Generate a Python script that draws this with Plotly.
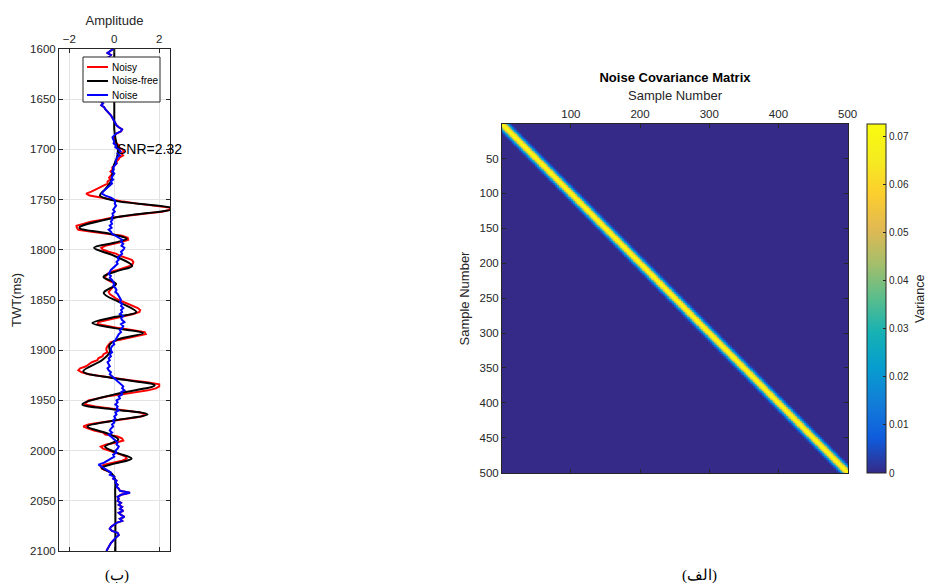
import numpy as np
import plotly.graph_objects as go

# ---------------- data: left panel (trace vs TWT) ----------------
twt = list(range(1600, 2101, 2))  # ms, 2 ms sampling

noise = [
    -0.05, -0.2, -0.3, -0.15, -0.25, -0.1, -0.2, -0.3, -0.25, -0.35, -0.3, -0.4, -0.35, -0.3, -0.45, -0.4, -0.35, -0.5, -0.45, -0.4, -0.5, -0.55, -0.45, -0.5, -0.6,
    -0.55, -0.6, -0.5, -0.58, -0.45, -0.4, -0.3, -0.2, -0.15, -0.1, -0.05, 0.0, 0.02, 0.1, 0.2, 0.35, 0.3, 0.1, 0.0, -0.08, -0.05, 0.0, -0.03, 0.08, 0.05,
    0.2, 0.28, 0.15, 0.25, 0.12, 0.1, 0.05, 0.1, 0.02, -0.05, -0.02, -0.1, 0.0, -0.08, -0.12, -0.05, -0.15, -0.1, -0.2, -0.3, -0.4, -0.5, -0.55, -0.4, -0.15,
    0.0, 0.05, 0.02, 0.08, 0.0, -0.05, 0.02, -0.08, -0.05, -0.12, -0.08, -0.15, -0.1, -0.2, -0.12, -0.25, -0.15, -0.1, 0.05, 0.2, 0.35, 0.3, 0.4, 0.32, 0.45,
    0.4, 0.3, 0.35, 0.25, 0.15, 0.2, 0.1, 0.15, 0.05, -0.05, -0.15, -0.2, -0.25, -0.15, -0.2, -0.1, -0.05, 0.0, -0.05, 0.05, 0.1, 0.05, 0.15, 0.2, 0.25,
    0.3, 0.25, 0.35, 0.3, 0.4, 0.3, 0.35, 0.25, 0.4, 0.3, 0.35, 0.45, 0.3, 0.4, 0.35, 0.25, 0.3, 0.2, 0.15, 0.1, 0.05, -0.05, 0.0, -0.1, -0.15,
    -0.15, -0.1, -0.2, -0.15, -0.25, -0.2, -0.3, -0.25, -0.2, -0.3, -0.25, -0.15, -0.2, -0.1, 0.0, 0.1, 0.25, 0.3, 0.4, 0.35, 0.45, 0.3, 0.35, 0.2, 0.25,
    0.1, 0.15, 0.05, 0.15, 0.1, 0.2, 0.05, 0.1, 0.0, 0.05, -0.05, 0.0, -0.1, -0.05, -0.15, -0.2, -0.1, -0.25, -0.15, -0.05, 0.05, 0.15, 0.1, 0.2, 0.15,
    0.05, 0.1, -0.05, 0.0, -0.15, -0.3, -0.45, -0.7, -0.55, -0.45, -0.3, -0.15, -0.2, 0.0, -0.05, 0.1, 0.05, 0.15, 0.1, 0.2, 0.25, 0.7, 0.3, 0.15, 0.2,
    0.15, 0.3, 0.2, 0.35, 0.25, 0.4, 0.2, 0.3, 0.45, 0.25, 0.35, 0.1, -0.05, -0.15, -0.2, -0.1, 0.15, 0.2, 0.1, 0.0, -0.1, -0.15, -0.2, -0.25, -0.3, -0.35,
]

noisy = [
    -0.05, -0.2, -0.3, -0.15, -0.25, -0.1, -0.2, -0.3, -0.25, -0.35, -0.3, -0.4, -0.35, -0.3, -0.45, -0.4, -0.35, -0.5, -0.45, -0.4, -0.5, -0.55, -0.45, -0.5, -0.6,
    -0.55, -0.6, -0.5, -0.58, -0.45, -0.4, -0.3, -0.2, -0.15, -0.1, -0.05, 0.0, 0.02, 0.1, 0.2, 0.35, 0.31, 0.12, 0.03, -0.03, 0.01, 0.08, 0.07, 0.21, 0.2,
    0.36, 0.45, 0.31, 0.39, 0.24, 0.19, 0.1, 0.11, 0.0, -0.09, -0.08, -0.17, -0.08, -0.17, -0.23, -0.18, -0.3, -0.3, -0.47, -0.65, -0.82, -1.02, -1.25, -1.1, -0.6,
    -0.15, 0.4, 1.02, 1.78, 2.45, 2.5, 2.12, 1.32, 0.55, -0.12, -0.53, -1.05, -1.35, -1.68, -1.67, -1.6, -1.0, -0.3, 0.35, 0.6, 0.62, 0.35, 0.0, -0.4, -0.58,
    -0.5, -0.25, 0.1, 0.25, 0.5, 0.78, 0.85, 0.82, 0.7, 0.45, 0.15, -0.15, -0.3, -0.38, -0.4, -0.3, -0.15, 0.05, -0.02, -0.1, -0.2, -0.25, -0.2, -0.1, 0.05,
    0.2, 0.4, 0.65, 0.85, 1.05, 1.15, 1.12, 0.85, 0.45, 0.0, -0.4, -0.7, -0.75, -0.35, 0.2, 0.85, 1.35, 1.4, 1.0, 0.5, 0.15, -0.15, -0.25, -0.3, -0.35,
    -0.35, -0.3, -0.48, -0.52, -0.71, -0.75, -1.0, -1.13, -1.25, -1.52, -1.6, -1.45, -1.15, -0.55, 0.0, 0.7, 1.45, 2.0, 2.0, 1.85, 1.5, 0.8, 0.35, -0.3, -0.7,
    -1.15, -1.25, -1.3, -0.85, -0.2, 0.6, 1.15, 1.4, 1.2, 0.65, -0.05, -0.6, -1.15, -1.38, -1.15, -0.9, -0.5, -0.4, 0.15, 0.35, 0.4, 0.1, -0.35, -0.6, -0.5,
    -0.2, 0.05, 0.3, 0.5, 0.55, 0.35, -0.1, -0.45, -0.6, -0.55, -0.35, -0.15, -0.1, 0.0, -0.05, 0.1, 0.05, 0.15, 0.1, 0.2, 0.25, 0.7, 0.3, 0.15, 0.2,
    0.15, 0.3, 0.2, 0.35, 0.25, 0.4, 0.2, 0.3, 0.45, 0.25, 0.35, 0.1, -0.05, -0.15, -0.2, -0.1, 0.15, 0.2, 0.1, 0.0, -0.1, -0.15, -0.2, -0.25, -0.3, -0.35,
]

# noise-free trace read at its turning points (ms, amplitude)
clean_twt = [1600, 1640, 1670, 1680, 1690, 1700, 1708, 1716, 1724, 1732, 1740, 1746, 1751, 1759,
             1768, 1778, 1784, 1789, 1793, 1798, 1806, 1816, 1821, 1827, 1834, 1843, 1853,
             1862, 1867, 1873, 1878, 1883, 1889, 1895, 1902, 1910, 1921, 1928, 1935, 1944,
             1954, 1959, 1964, 1970, 1976, 1983, 1989, 1996, 2002, 2008, 2013, 2017, 2022,
             2028, 2040, 2060, 2080, 2100]
clean_amp = [0.0, 0.0, 0.0, 0.0, 0.06, 0.16, 0.12, -0.02, -0.08, -0.15, -0.42, -0.64, 0.0, 2.6,
             0.0, -1.55, -0.2, 0.55, 0.0, -0.9, 0.0, 0.8, 0.15, -0.48, 0.08, -0.47, 0.3,
             0.98, 0.0, -0.98, 0.0, 1.28, 0.2, -0.22, -0.2, -0.55, -1.38, 0.0, 1.8, 0.0,
             -1.42, 0.0, 1.48, 0.0, -1.2, -0.3, 0.18, -0.41, 0.1, 0.77, 0.0, -0.56, -0.15,
             0.03, 0.04, 0.05, 0.05, 0.05]

series_names = ["Noisy", "Noise-free", "Noise"]
series_colors = ["#ff0000", "#000000", "#0000ff"]
snr_text = "SNR=2.32"
amp_ticks = [-2, 0, 2]
twt_ticks = list(range(1600, 2101, 50))

# ---------------- data: right panel (noise covariance) ----------------
n_samples = 500
cov_by_lag = [0.0727, 0.0718, 0.069, 0.0645, 0.058, 0.0505, 0.042, 0.0335, 0.0255,
              0.0185, 0.0125, 0.008, 0.0047, 0.0025, 0.0012, 0.0005]
sample_ticks_x = [100, 200, 300, 400, 500]
sample_ticks_y = list(range(50, 501, 50))
cbar_ticks = [0, 0.01, 0.02, 0.03, 0.04, 0.05, 0.06, 0.07]
cbar_ticktext = ["0", "0.01", "0.02", "0.03", "0.04", "0.05", "0.06", "0.07"]

idx = np.arange(1, n_samples + 1)
lag = np.abs(idx[:, None] - idx[None, :])
prof = np.array(cov_by_lag)
cov = np.where(lag < len(prof), prof[np.minimum(lag, len(prof) - 1)], 0.0)

parula = [
    [0.0, "rgb(53,42,135)"], [0.1, "rgb(15,92,221)"], [0.2, "rgb(18,125,216)"],
    [0.3, "rgb(7,156,207)"], [0.4, "rgb(21,177,180)"], [0.5, "rgb(89,189,140)"],
    [0.6, "rgb(165,190,107)"], [0.7, "rgb(225,185,82)"], [0.8, "rgb(252,206,46)"],
    [0.9, "rgb(245,236,32)"], [1.0, "rgb(249,251,14)"],
]

W, H = 931, 583
def px_x(p):
    return p / W
def px_y(p):
    return 1 - p / H

AX = "#262626"
FONT = "Liberation Sans, Arial, sans-serif"

fig = go.Figure()
fig.add_trace(go.Scatter(x=noisy, y=twt, mode="lines", name=series_names[0],
                         line=dict(color=series_colors[0], width=2), xaxis="x", yaxis="y"))
fig.add_trace(go.Scatter(x=clean_amp, y=clean_twt, mode="lines", name=series_names[1],
                         line=dict(color=series_colors[1], width=2, shape="spline", smoothing=1.0),
                         xaxis="x", yaxis="y"))
fig.add_trace(go.Scatter(x=noise, y=twt, mode="lines", name=series_names[2],
                         line=dict(color=series_colors[2], width=2), xaxis="x", yaxis="y"))

fig.add_trace(go.Heatmap(
    z=cov, x=idx, y=idx, colorscale=parula, zmin=0, zmax=0.0727,
    xaxis="x2", yaxis="y2", showlegend=False,
    colorbar=dict(
        x=px_x(867), xanchor="left", y=px_y(124), yanchor="top",
        len=349 / H, lenmode="fraction", thickness=19, thicknessmode="pixels",
        xpad=0, ypad=0,
        outlinecolor=AX, outlinewidth=1,
        tickvals=cbar_ticks, ticktext=cbar_ticktext, ticks="inside", ticklen=3,
        tickcolor=AX, tickfont=dict(size=10, color=AX, family=FONT),
    ),
))

axis_common = dict(showline=True, linecolor=AX, linewidth=1, mirror="ticks",
                   ticks="inside", ticklen=4, tickcolor=AX, zeroline=False,
                   automargin=False, tickfont=dict(size=11.5, color=AX, family=FONT))

fig.update_layout(
    width=W, height=H, margin=dict(l=0, r=0, t=0, b=0, autoexpand=False),
    paper_bgcolor="white", plot_bgcolor="white",
    font=dict(family=FONT, color=AX),
    showlegend=False,
    xaxis=dict(domain=[px_x(59), px_x(170)], anchor="y", side="top",
               range=[-2.46, 2.48], tickvals=amp_ticks,
               showgrid=True, gridcolor="#e3e3e3",
               title=dict(text="Amplitude", font=dict(size=13, color=AX), standoff=4),
               **axis_common),
    yaxis=dict(domain=[px_y(551), px_y(49)], anchor="x",
               range=[2100, 1600], tickvals=twt_ticks,
               showgrid=True, gridcolor="#e3e3e3",
               title=dict(text="TWT(ms)", font=dict(size=13, color=AX), standoff=5),
               **axis_common),
    xaxis2=dict(domain=[px_x(502), px_x(848)], anchor="y2", side="top",
                range=[0.5, 500.5], tickvals=sample_ticks_x, showgrid=False,
                title=dict(text="Sample Number", font=dict(size=13, color=AX), standoff=4),
                **axis_common),
    yaxis2=dict(domain=[px_y(473), px_y(124)], anchor="x2",
                range=[500.5, 0.5], tickvals=sample_ticks_y, showgrid=False,
                title=dict(text="Sample Number", font=dict(size=13, color=AX), standoff=6),
                **axis_common),
    title=dict(text="<b>Noise Covariance Matrix</b>", x=px_x(675), y=px_y(77),
               xanchor="center", yanchor="middle", xref="paper", yref="paper",
               font=dict(size=13, color="#000", family=FONT)),
)

# colorbar label
fig.add_annotation(x=px_x(920), y=px_y(299), xref="paper", yref="paper", text="Variance",
                   showarrow=False, textangle=-90, xanchor="center", yanchor="middle",
                   font=dict(size=12.5, color=AX, family=FONT))

# compact MATLAB-style legend box (drawn from the series names/colours)
leg_x0, leg_x1, leg_y0, leg_y1 = 83, 160, 57, 102
fig.add_shape(type="rect", xref="paper", yref="paper",
              x0=px_x(leg_x0), x1=px_x(leg_x1), y0=px_y(leg_y1), y1=px_y(leg_y0),
              fillcolor="white", line=dict(color=AX, width=1), layer="above")
for k, (nm, col) in enumerate(zip(series_names, series_colors)):
    yc = 67 + 14 * k
    fig.add_shape(type="line", xref="paper", yref="paper",
                  x0=px_x(87), x1=px_x(108), y0=px_y(yc), y1=px_y(yc),
                  line=dict(color=col, width=2), layer="above")
    fig.add_annotation(x=px_x(110), y=px_y(yc), xref="paper", yref="paper", text=nm,
                       showarrow=False, xanchor="left", yanchor="middle",
                       font=dict(size=10, color="#000", family=FONT))

fig.add_annotation(x=0.05, y=1700, xref="x", yref="y", text=snr_text, showarrow=False,
                   xanchor="left", yanchor="middle",
                   font=dict(size=14, color="#000", family=FONT))

for txt, cx in [("(ب)", 117), ("(الف)", 699)]:
    fig.add_annotation(x=px_x(cx), y=px_y(575), xref="paper", yref="paper", text=txt,
                       showarrow=False, xanchor="center", yanchor="middle",
                       font=dict(size=15, color="#000",
                                 family="Liberation Serif, Times New Roman, DejaVu Serif, serif"))

fig.write_html("out.html")
